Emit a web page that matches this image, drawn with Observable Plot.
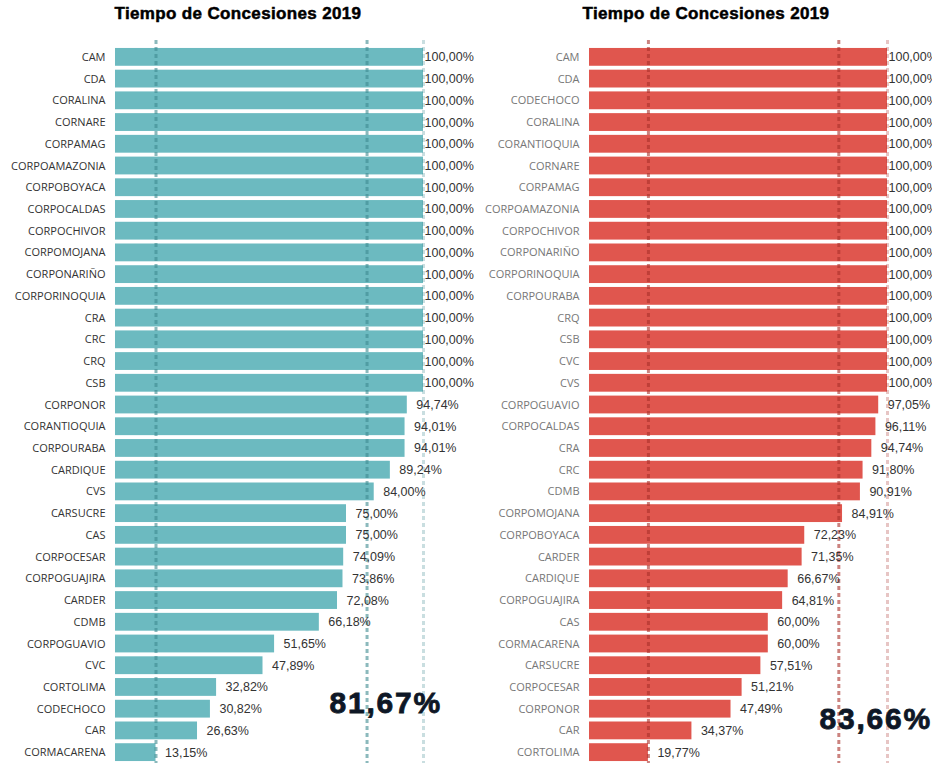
<!DOCTYPE html>
<html>
<head>
<meta charset="utf-8">
<script src="https://cdn.jsdelivr.net/npm/d3@7"></script>
<script src="https://cdn.jsdelivr.net/npm/@observablehq/plot@0.6"></script>
<style>
  html, body { margin: 0; padding: 0; background: #fff; }
  #wrap { position: relative; width: 932px; height: 765px; overflow: hidden; }
  .title { position: absolute; top: 4px; font-family: "Liberation Sans", Arial, sans-serif; font-weight: 900; font-size: 17px; letter-spacing: 0.35px; color: #000; text-align: center; width: 466px; -webkit-text-stroke: 0.5px #000; white-space: nowrap; }
  .big { position: absolute; font-family: "Liberation Sans", Arial, sans-serif; font-weight: 900; font-size: 30px; letter-spacing: 1.8px; color: #0e1726; -webkit-text-stroke: 0.8px #0e1726; white-space: nowrap; line-height: 1; }
</style>
</head>
<body>
<div id="wrap"></div>
<script>
const titleText = "Tiempo de Concesiones 2019";

const leftNames = ["CAM","CDA","CORALINA","CORNARE","CORPAMAG","CORPOAMAZONIA","CORPOBOYACA","CORPOCALDAS","CORPOCHIVOR","CORPOMOJANA","CORPONARIÑO","CORPORINOQUIA","CRA","CRC","CRQ","CSB","CORPONOR","CORANTIOQUIA","CORPOURABA","CARDIQUE","CVS","CARSUCRE","CAS","CORPOCESAR","CORPOGUAJIRA","CARDER","CDMB","CORPOGUAVIO","CVC","CORTOLIMA","CODECHOCO","CAR","CORMACARENA"];
const leftValues = [100,100,100,100,100,100,100,100,100,100,100,100,100,100,100,100,94.74,94.01,94.01,89.24,84.00,75.00,75.00,74.09,73.86,72.08,66.18,51.65,47.89,32.82,30.82,26.63,13.15];

const rightNames = ["CAM","CDA","CODECHOCO","CORALINA","CORANTIOQUIA","CORNARE","CORPAMAG","CORPOAMAZONIA","CORPOCHIVOR","CORPONARIÑO","CORPORINOQUIA","CORPOURABA","CRQ","CSB","CVC","CVS","CORPOGUAVIO","CORPOCALDAS","CRA","CRC","CDMB","CORPOMOJANA","CORPOBOYACA","CARDER","CARDIQUE","CORPOGUAJIRA","CAS","CORMACARENA","CARSUCRE","CORPOCESAR","CORPONOR","CAR","CORTOLIMA"];
const rightValues = [100,100,100,100,100,100,100,100,100,100,100,100,100,100,100,100,97.05,96.11,94.74,91.80,90.91,84.91,72.23,71.35,66.67,64.81,60.00,60.00,57.51,51.21,47.49,34.37,19.77];

const fmt = v => v.toFixed(2).replace(".", ",") + "%";

function panel(names, values, opts) {
  const data = names.map((n, i) => ({name: n, value: values[i]}));
  const ruleBase = {x: "value", strokeWidth: 3, strokeDasharray: "4,3", insetTop: -6};
  const textBase = {x: "value", y: "name", text: d => fmt(d.value), textAnchor: "start", fontSize: 12.5, fontFamily: "Liberation Sans, Arial, sans-serif", fill: "#333"};
  return Plot.plot({
    width: 466,
    height: 729,
    marginLeft: opts.marginLeft,
    marginRight: opts.marginRight,
    marginTop: 10,
    marginBottom: 2,
    x: {domain: [0, 100], axis: null},
    y: {domain: names, paddingInner: 0.18, paddingOuter: 0.09, round: false, label: null},
    style: {background: "transparent", overflow: "visible"},
    marks: [
      Plot.barX(data, {x: "value", y: "name", fill: opts.fill}),
      Plot.ruleX(data, Plot.groupZ({x: "min"}, {...ruleBase, stroke: opts.rule, strokeOpacity: 0.6})),
      Plot.ruleX(data, Plot.groupZ({x: "mean"}, {...ruleBase, stroke: opts.rule, strokeOpacity: 0.6})),
      Plot.ruleX(data, Plot.groupZ({x: "max"}, {...ruleBase, stroke: opts.rule, strokeOpacity: 0.28})),
      Plot.axisY({tickSize: 0, tickPadding: opts.tickPad, fontSize: 11, fontFamily: "Open Sans, sans-serif", fill: opts.labelColor, label: null}),
      Plot.text(data.filter(d => d.value < 100), {...textBase, dx: 9}),
      Plot.text(data.filter(d => d.value >= 100), {...textBase, dx: 1})
    ]
  });
}

const wrap = document.getElementById("wrap");

function addPanel(left, names, values, opts, bigPos) {
  const t = document.createElement("div");
  t.className = "title";
  t.style.left = (left + opts.titleShift) + "px";
  t.textContent = titleText;
  wrap.appendChild(t);

  const svg = panel(names, values, opts);
  svg.style.position = "absolute";
  svg.style.left = left + "px";
  svg.style.top = "36px";
  svg.style.width = "466px";
  svg.style.height = "729px";
  svg.style.maxWidth = "none";
  wrap.appendChild(svg);

  const b = document.createElement("div");
  b.className = "big";
  b.textContent = fmt(Math.round(d3.mean(values) * 100) / 100);
  b.style.right = bigPos.right + "px";
  b.style.top = bigPos.top + "px";
  wrap.appendChild(b);
}

addPanel(0, leftNames, leftValues,
  {marginLeft: 115, marginRight: 43, fill: "#6cbac0", rule: "#3e8a90", labelColor: "#333", tickPad: 10, titleShift: 5},
  {right: 932 - 442, top: 688});
addPanel(466, rightNames, rightValues,
  {marginLeft: 123, marginRight: 45, fill: "#e0564e", rule: "#a8302a", labelColor: "#777", tickPad: 10, titleShift: 7},
  {right: 0, top: 704});
</script>
</body>
</html>
